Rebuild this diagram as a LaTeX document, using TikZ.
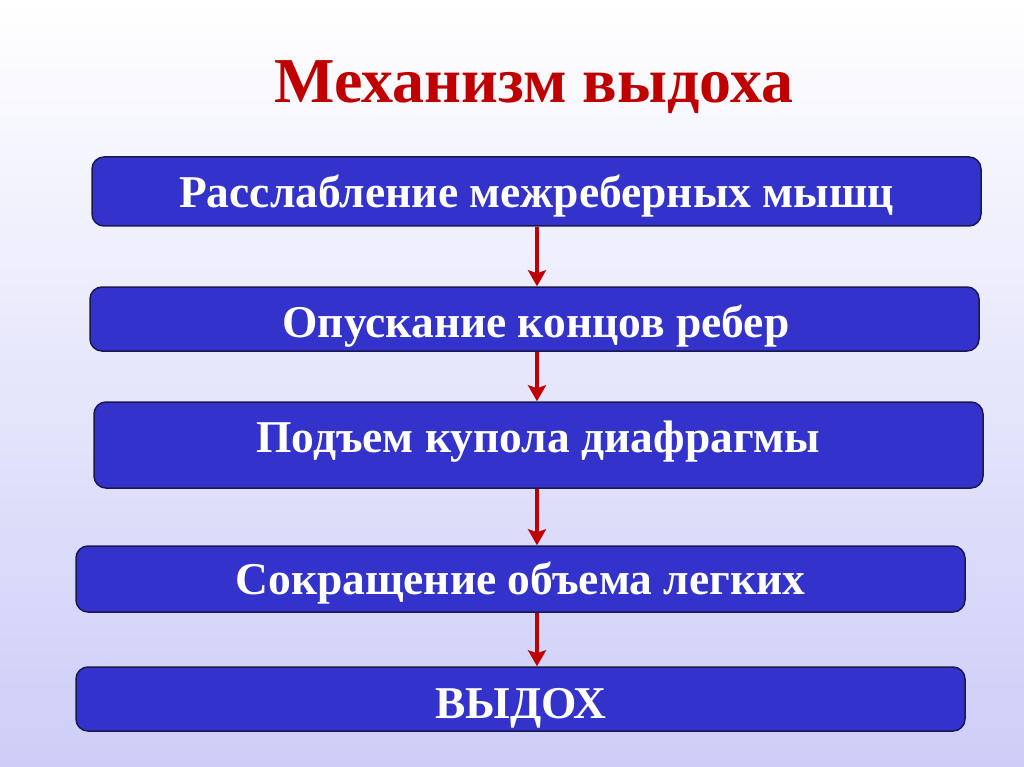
\documentclass[tikz,border=0pt]{standalone}
\usepackage{fontspec}
\setmainfont{Liberation Serif}
\usetikzlibrary{arrows.meta}
\definecolor{boxfill}{RGB}{51,51,204}
\definecolor{boxline}{RGB}{25,25,80}
\definecolor{titlered}{RGB}{192,0,0}
\definecolor{arrred}{RGB}{192,0,0}
\definecolor{bgbot}{RGB}{205,205,248}
\begin{document}
\begin{tikzpicture}[x=1pt,y=-1pt,
  stepbox/.style={draw=boxline,line width=1.5pt,fill=boxfill,rounded corners=12pt,
    inner sep=0pt,minimum width=889pt},
  steptext/.style={text=white,font=\bfseries\fontsize{45.5}{50}\selectfont,anchor=base,inner sep=0pt},
  arr/.style={draw=arrred,line width=4pt,-{Stealth[length=16pt,width=18pt,inset=3pt]}}]
\useasboundingbox (0,0) rectangle (1024,767);
\shade[top color=white,bottom color=bgbot] (0,0) rectangle (1024,767);
\node[text=titlered,font=\bfseries\fontsize{64}{70}\selectfont,anchor=base,inner sep=0pt] (title) at (534,103) {Механизм выдоха};
\node[stepbox,minimum height=69pt] (b1) at (536.5,191.5) {};
\node[stepbox,minimum height=64pt] (b2) at (534.5,319) {};
\node[stepbox,minimum height=86pt] (b3) at (538.5,445) {};
\node[stepbox,minimum height=66pt] (b4) at (520.5,579) {};
\node[stepbox,minimum height=64pt] (b5) at (520.5,699) {};
\node[steptext] (t1) at (536.5,208) {Расслабление межреберных мышц};
\node[steptext] (t2) at (536,337) {Опускание концов ребер};
\node[steptext] (t3) at (538,452) {Подъем купола диафрагмы};
\node[steptext] (t4) at (520.5,594) {Сокращение объема легких};
\node[steptext] (t5) at (521,718) {ВЫДОХ};
\coordinate (ax) at (537,0);
\draw[arr] (b1.south -| ax) -- (b2.north -| ax);
\draw[arr] (b2.south -| ax) -- (b3.north -| ax);
\draw[arr] (b3.south -| ax) -- (b4.north -| ax);
\draw[arr] (b4.south -| ax) -- (b5.north -| ax);
\end{tikzpicture}
\end{document}
